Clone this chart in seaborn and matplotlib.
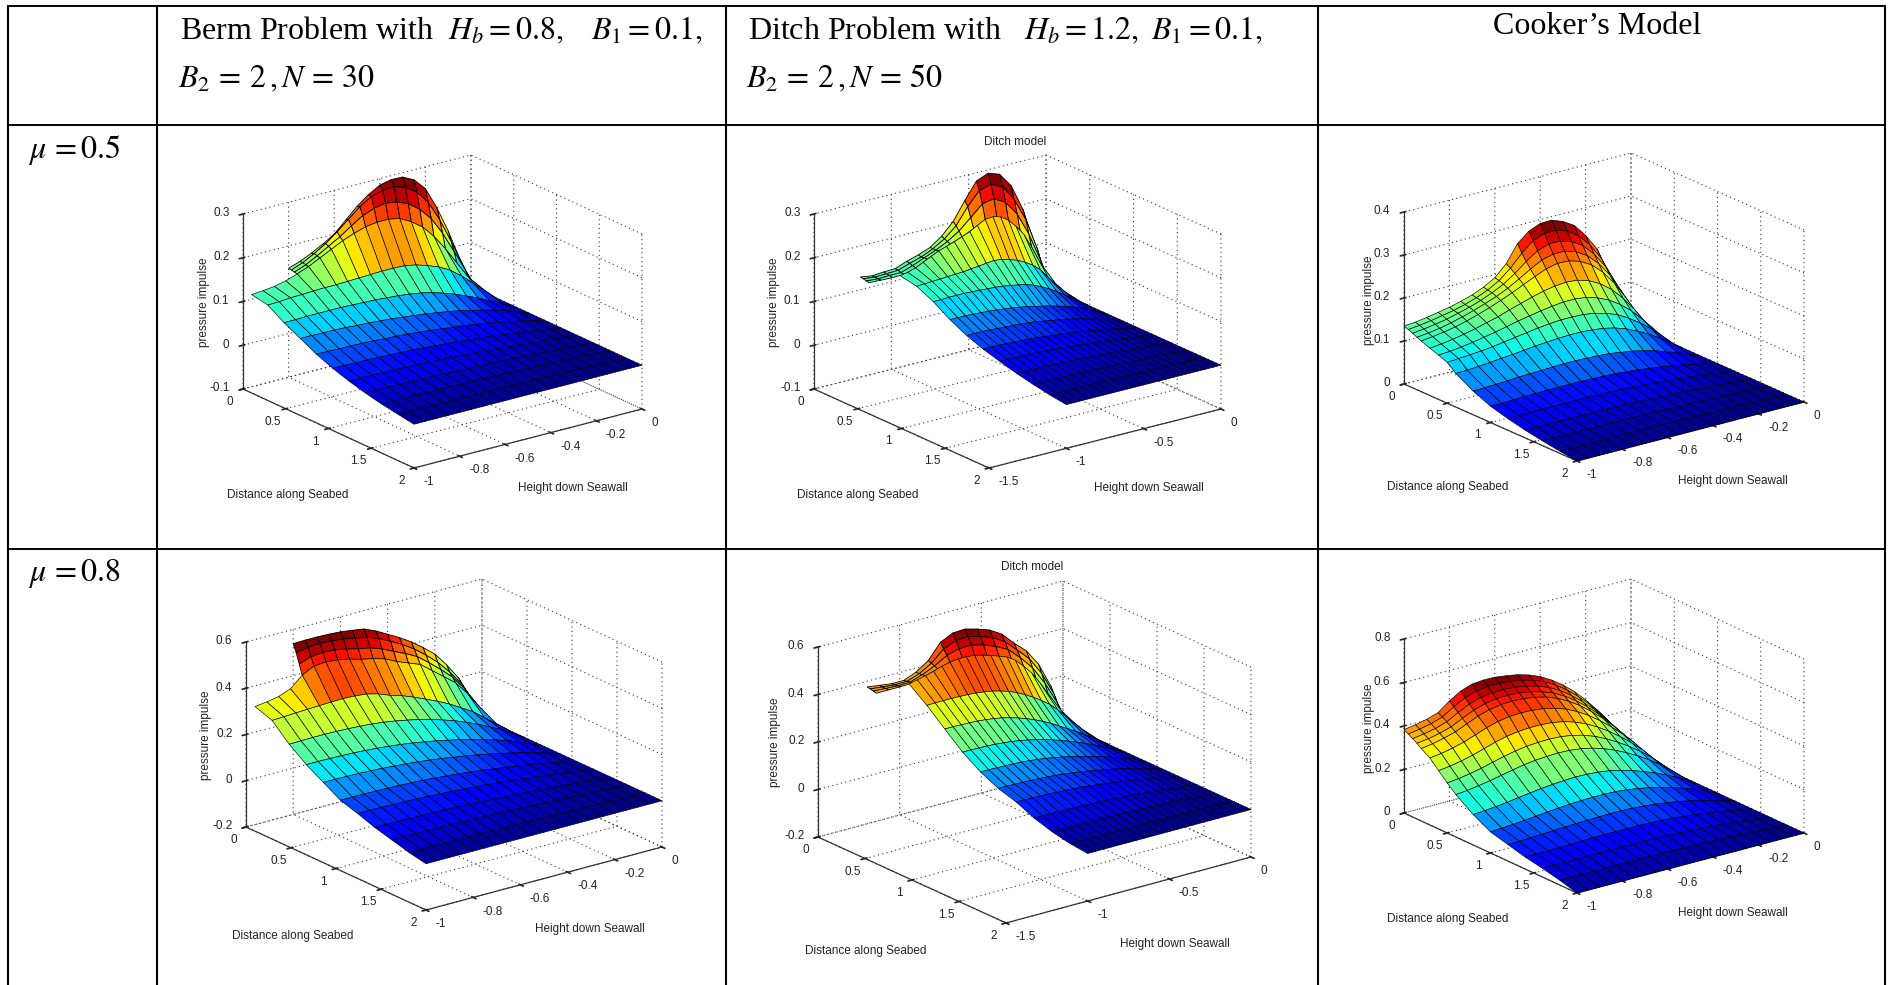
import numpy as np
import matplotlib
matplotlib.use("Agg")
import matplotlib.pyplot as plt
from matplotlib.lines import Line2D
from mpl_toolkits.mplot3d import proj3d
import seaborn as sns

# values, pressure impulse in thousandths
# coarse rows: one row per x node, columns run from y=-1 to y=0
x_coarse = [0.1, 0.29, 0.48, 0.67, 0.86, 1.05, 1.24, 1.43, 1.62, 1.81, 2.0]
x_fine = [0, 0.033, 0.067, 0.1]
x_cooker = [0, 0.05, 0.1, 0.15, 0.2, 0.3, 0.4, 0.5, 0.6, 0.8, 1.0, 1.2, 1.4, 1.6, 1.8, 2.0]
y_unit = [-1, -0.95, -0.9, -0.85, -0.8, -0.75, -0.7, -0.65, -0.6, -0.55, -0.5,
          -0.45, -0.4, -0.35, -0.3, -0.25, -0.2, -0.15, -0.1, -0.05, 0]
y_berm_fine = [-0.8, -0.75, -0.7, -0.65, -0.6, -0.55, -0.5, -0.45, -0.4,
               -0.35, -0.3, -0.25, -0.2, -0.15, -0.1, -0.05, 0]
y_ditch_fine = [-1.2, -1.125, -1.05, -0.975, -0.9, -0.825, -0.75, -0.675, -0.6,
                -0.525, -0.45, -0.375, -0.3, -0.225, -0.15, -0.075, 0]

berm05 = [
    [125,127,130,136,145,155,168,181,194,204,212,216,216,211,197,178,150,115,76,37,0],
    [118,119,121,122,123,124,124,125,126,127,128,128,127,122,114,104,90,70,47,24,0],
    [95,95,96,96,96,96,95,94,93,91,89,86,82,76,68,59,48,37,24,12,0],
    [76,76,75,75,74,72,71,69,67,64,61,58,54,50,45,39,33,26,18,9,0],
    [57,57,56,56,55,54,52,51,49,47,44,41,38,35,31,27,22,17,12,6,0],
    [42,42,41,41,40,39,38,37,35,33,31,29,26,24,21,18,15,11,8,4,0],
    [30,30,30,29,29,28,27,26,25,23,22,20,18,16,14,12,10,7,5,3,0],
    [20,20,20,19,19,18,18,17,16,15,14,13,12,11,9,8,6,5,3,2,0],
    [12,12,12,12,11,11,11,10,10,9,9,8,7,6,5,5,4,3,2,1,0],
    [6,6,6,6,6,5,5,5,5,5,4,4,4,3,3,2,2,1,1,0,0],
    [0,0,0,0,0,0,0,0,0,0,0,0,0,0,0,0,0,0,0,0,0],
]
berm05_fine = [
    [149,158,170,184,200,225,250,270,285,291,290,277,250,200,140,70,0],
    [148,158,172,188,208,230,252,268,276,278,270,252,222,176,120,60,0],
    [146,156,170,185,200,218,235,245,250,246,235,216,188,148,100,50,0],
    [145,155,168,181,194,204,212,216,216,211,197,178,150,115,76,37,0],
]
ditch05 = [
    [123,126,132,140,149,157,163,169,176,183,193,202,204,199,187,168,146,112,74,36,0],
    [116,117,118,119,120,121,122,124,126,128,130,128,123,117,108,97,82,60,40,20,0],
    [98,98,99,99,99,98,97,96,95,93,90,87,83,77,69,60,49,37,25,13,0],
    [74,74,74,73,72,71,69,67,65,62,59,55,51,47,42,37,31,24,16,8,0],
    [55,55,55,54,53,52,51,50,48,46,43,40,37,34,30,26,21,16,11,6,0],
    [41,41,41,40,39,38,37,36,34,32,30,28,26,23,20,17,14,11,7,4,0],
    [30,30,30,29,29,28,27,26,25,23,22,20,18,16,14,12,10,7,5,3,0],
    [20,20,20,19,19,18,18,17,16,15,14,13,12,11,9,8,6,5,3,2,0],
    [12,12,12,12,11,11,11,10,10,9,9,8,7,6,5,5,4,3,2,1,0],
    [5,5,5,5,5,5,5,5,5,4,4,4,3,3,3,2,2,1,1,0,0],
    [0,0,0,0,0,0,0,0,0,0,0,0,0,0,0,0,0,0,0,0,0],
]
ditch05_fine = [
    [129,125,127,128,138,146,156,175,202,243,281,292,283,250,190,105,0],
    [128,125,126,127,136,144,156,172,195,232,262,270,258,222,170,95,0],
    [126,124,125,125,134,145,156,169,186,210,235,240,225,192,140,75,0],
    [125,124,123,124,132,145,157,166,176,188,202,201,187,158,112,55,0],
]
cooker05 = [
    [135,137,141,146,151,158,166,177,192,218,258,280,291,292,282,266,236,198,135,70,0],
    [131,134,138,143,148,155,164,175,190,212,240,262,272,273,264,246,218,180,128,65,0],
    [127,130,134,139,146,153,162,173,186,204,225,243,252,252,244,228,201,165,116,60,0],
    [122,125,129,135,142,150,159,169,181,196,212,226,233,233,225,209,184,150,106,54,0],
    [118,121,125,130,137,145,154,164,175,187,199,210,216,215,207,192,168,136,96,49,0],
    [110,113,117,122,128,135,142,151,159,167,174,179,181,179,171,157,137,110,77,40,0],
    [103,105,108,112,117,122,128,134,139,144,148,151,151,148,140,128,111,89,62,32,0],
    [95,97,99,101,104,108,112,116,120,123,125,125,124,120,113,103,88,70,49,25,0],
    [78,79,81,83,86,88,91,94,96,98,99,99,97,94,88,79,67,53,37,19,0],
    [55,56,57,58,60,61,62,63,64,64,63,62,60,56,52,46,39,30,21,11,0],
    [38,38,39,40,40,41,41,41,41,40,39,38,36,33,30,26,22,17,12,6,0],
    [27,27,28,28,28,28,28,28,27,27,26,25,23,21,19,17,14,11,7,4,0],
    [18,18,18,18,18,18,18,18,17,17,16,15,14,13,12,10,8,6,4,2,0],
    [11,11,11,11,11,11,11,11,10,10,10,9,8,8,7,6,5,4,3,1,0],
    [5,5,5,5,5,5,5,5,5,5,4,4,4,3,3,3,2,2,1,1,0],
    [0,0,0,0,0,0,0,0,0,0,0,0,0,0,0,0,0,0,0,0,0],
]
berm08 = [
    [339,345,355,375,420,445,450,445,435,420,410,395,370,350,330,290,250,210,150,80,0],
    [313,315,318,320,322,324,325,323,318,305,285,270,250,228,205,180,150,120,80,40,0],
    [244,245,246,246,245,243,240,236,230,222,212,201,188,172,155,135,112,88,62,32,0],
    [190,190,189,188,186,183,179,174,168,161,152,143,132,121,108,94,79,62,43,22,0],
    [147,147,146,145,143,140,136,132,127,121,114,106,98,89,79,68,57,44,30,15,0],
    [104,104,104,103,102,100,98,95,91,87,82,76,70,63,56,48,40,31,21,11,0],
    [81,81,80,79,78,76,74,71,68,64,60,56,51,46,40,34,28,22,15,8,0],
    [55,55,54,53,52,51,50,48,46,43,40,37,34,30,26,22,18,14,10,5,0],
    [35,35,35,34,34,33,32,30,29,27,25,23,21,19,16,14,11,9,6,3,0],
    [15,15,15,15,14,14,14,13,12,12,11,10,9,8,7,6,5,4,2,1,0],
    [0,0,0,0,0,0,0,0,0,0,0,0,0,0,0,0,0,0,0,0,0],
]
berm08_fine = [
    [538,540,540,538,535,528,520,498,470,442,410,372,330,270,200,105,0],
    [505,515,518,516,510,500,490,472,445,418,385,345,300,245,180,95,0],
    [462,480,485,482,473,460,450,432,408,385,358,318,275,228,165,88,0],
    [420,445,450,445,435,420,410,395,370,350,330,290,250,210,150,80,0],
]
ditch08 = [
    [370,378,386,395,407,415,420,420,416,408,397,385,372,350,316,278,228,172,112,55,0],
    [314,315,315,315,314,313,310,306,300,291,280,266,248,228,205,180,148,110,75,38,0],
    [249,249,248,247,245,242,237,231,222,212,200,186,170,152,132,112,92,70,47,24,0],
    [186,186,185,184,182,179,175,170,163,155,146,136,124,112,98,84,69,53,36,18,0],
    [137,137,136,135,134,132,129,125,120,114,107,99,91,82,72,62,51,39,27,14,0],
    [102,102,101,100,99,97,95,92,88,84,79,73,67,60,53,46,38,29,20,10,0],
    [79,79,78,77,76,74,72,70,67,63,60,55,50,45,40,34,28,22,15,8,0],
    [46,46,46,45,45,44,43,41,40,38,36,33,31,28,25,21,17,13,9,5,0],
    [23,23,23,23,23,22,22,21,20,19,18,17,15,14,12,11,9,7,4,2,0],
    [8,8,8,8,8,8,8,7,7,7,6,6,5,5,4,4,3,2,2,1,0],
    [0,0,0,0,0,0,0,0,0,0,0,0,0,0,0,0,0,0,0,0,0],
]
ditch08_fine = [
    [376,369,362,362,383,418,481,506,509,495,477,446,394,348,278,172,0],
    [374,368,363,364,382,412,458,480,483,470,451,420,371,320,245,145,0],
    [371,368,365,367,384,407,437,452,453,440,420,393,345,288,210,115,0],
    [368,368,368,370,386,401,415,420,416,403,385,361,316,253,172,85,0],
]
cooker08 = [
    [383,392,403,420,460,492,510,515,514,507,498,483,462,432,396,352,300,240,175,90,0],
    [372,381,392,409,442,470,487,494,495,490,482,468,447,418,381,337,287,230,165,85,0],
    [360,368,379,396,425,450,466,474,476,472,464,450,430,402,365,322,274,219,157,80,0],
    [348,355,366,382,407,431,447,456,458,455,447,433,414,386,351,309,262,209,150,77,0],
    [333,341,353,368,391,413,429,438,441,438,431,418,398,371,337,296,251,200,143,74,0],
    [308,315,326,340,359,378,393,402,405,403,397,385,367,342,310,272,230,183,130,67,0],
    [268,275,285,298,314,330,343,351,355,355,351,342,326,304,276,242,204,162,115,59,0],
    [230,236,245,256,270,283,294,302,306,307,305,297,284,265,240,211,178,141,100,51,0],
    [195,200,208,217,228,239,249,256,260,262,260,254,243,227,206,181,153,121,85,44,0],
    [140,144,149,155,163,170,177,182,186,188,187,183,176,164,149,131,111,88,62,32,0],
    [97,100,104,109,114,119,124,128,131,132,132,130,125,117,107,94,80,63,44,23,0],
    [76,77,79,81,84,87,89,91,92,93,93,91,87,82,75,66,56,44,31,16,0],
    [55,55,56,57,58,60,61,62,62,62,62,60,58,54,49,43,36,29,20,10,0],
    [40,40,40,40,41,41,41,41,41,41,40,39,37,34,31,27,23,18,12,6,0],
    [22,22,22,22,22,22,22,22,22,21,21,20,19,18,16,14,12,9,6,3,0],
    [0,0,0,0,0,0,0,0,0,0,0,0,0,0,0,0,0,0,0,0,0],
]

x_ticks = [0, 0.5, 1, 1.5, 2]
x_labels = ["0", "0.5", "1", "1.5", "2"]
y_ticks_unit = [-1, -0.8, -0.6, -0.4, -0.2, 0]
y_labels_unit = ["-1", "-0.8", "-0.6", "-0.4", "-0.2", "0"]
y_ticks_ditch = [-1.5, -1, -0.5, 0]
y_labels_ditch = ["-1.5", "-1", "-0.5", "0"]
z_ticks_03 = [-0.1, 0, 0.1, 0.2, 0.3]
z_labels_03 = ["-0.1", "0", "0.1", "0.2", "0.3"]
z_ticks_04 = [0, 0.1, 0.2, 0.3, 0.4]
z_labels_04 = ["0", "0.1", "0.2", "0.3", "0.4"]
z_ticks_06 = [-0.2, 0, 0.2, 0.4, 0.6]
z_labels_06 = ["-0.2", "0", "0.2", "0.4", "0.6"]
z_ticks_08 = [0, 0.2, 0.4, 0.6, 0.8]
z_labels_08 = ["0", "0.2", "0.4", "0.6", "0.8"]

W, H = 1896, 985

sns.set_theme(style="white")
plt.rcParams["font.family"] = ["Liberation Sans"]
plt.rcParams["mathtext.fontset"] = "stix"
jet = plt.get_cmap("jet")

fig = plt.figure(figsize=(W / 100, H / 100), dpi=100, facecolor="white")


def fig_text(x, y, s, **kw):
    return fig.text(x / W, 1 - y / H, s, **kw)


def draw_panel(left, bottom, right, ztop, meshes, yt, ytl, zt, ztl, dist_xy, height_xy, press_xy):
    dx = (bottom[0] - left[0], bottom[1] - left[1])
    dy = (right[0] - bottom[0], bottom[1] - right[1])
    dz = left[1] - ztop
    rx, ry = dx[1] / dx[0], dy[1] / dy[0]
    elev = np.arcsin(np.sqrt(rx * ry))
    azim = np.arctan(np.sqrt(ry / rx))

    ax = fig.add_axes([200 / W, 200 / H, 600 / W, 600 / H], projection="3d", proj_type="ortho")
    ax.set_facecolor("none")
    ax.computed_zorder = False
    ax.view_init(elev=np.degrees(elev), azim=-np.degrees(azim), roll=0)
    ax.set_box_aspect((dx[0] / np.sin(azim), dy[0] / np.cos(azim), dz / np.cos(elev)))
    ax.set_xlim(0, 2)
    ax.set_ylim(yt[0], 0)
    ax.set_zlim(zt[0], zt[-1])

    all_z = np.concatenate([np.ravel(m[2]) for m in meshes]) / 1000
    for order, (xs, ys, zs) in enumerate(meshes):
        X, Y = np.meshgrid(xs, ys, indexing="ij")
        Z = np.array(zs) / 1000
        # flat cells take the colour of their first corner
        colors = jet((Z - all_z.min()) / (all_z.max() - all_z.min()))
        surf = ax.plot_surface(X, Y, Z, facecolors=colors, shade=False, rstride=1, cstride=1,
                               antialiased=True, zorder=order + 1)
        surf.set_edgecolor("black")
        surf.set_linewidth(0.6 if len(xs) == 4 else 0.45)

    ax.set_xticks(x_ticks, labels=x_labels)
    ax.set_yticks(yt, labels=ytl)
    ax.set_zticks(zt, labels=ztl)
    ax.zaxis.set_ticks_position("lower")
    for axis in (ax.xaxis, ax.yaxis, ax.zaxis):
        axis.set_pane_color((1, 1, 1, 0))
        axis.pane.set_edgecolor((1, 1, 1, 0))
        axis.line.set_color("#333333")
        axis.line.set_linewidth(0.9)
        axis._axinfo["grid"].update(color="#333333", linewidth=0.8, linestyle=(0, (1, 3)))
        axis.set_tick_params(labelsize=8.5, labelcolor="#222222", pad=1)
    ax.zaxis.set_tick_params(pad=-2.5)
    plt.setp(ax.xaxis.get_ticklabels(), va="center")
    plt.setp(ax.yaxis.get_ticklabels(), va="center", ha="left")
    plt.setp(ax.zaxis.get_ticklabels(), va="center", ha="right")

    # scale and shift the square axes so the box corners land where they are in the picture
    def corner_px(cx, cy):
        px, py, _ = proj3d.proj_transform(cx, cy, zt[0], ax.get_proj())
        return ax.transData.transform((px, py))

    k = (right[0] - left[0]) / (corner_px(2, 0)[0] - corner_px(0, yt[0])[0])
    size = 600 * k
    ax.set_position([200 / W, 200 / H, size / W, size / H])
    p = corner_px(0, yt[0])
    ax.set_position([(200 + left[0] - p[0]) / W, (200 + (H - left[1]) - p[1]) / H, size / W, size / H])

    label = dict(fontsize=8.5, color="#222222", ha="center", va="center")
    fig_text(*dist_xy, "Distance along Seabed", **label)
    fig_text(*height_xy, "Height down Seawall", **label)
    fig_text(*press_xy, "pressure impulse", rotation=90, **label)
    return ax


draw_panel((243, 389), (414, 468), (642, 409), 214,
           [(x_fine, y_berm_fine, berm05_fine), (x_coarse, y_unit, berm05)],
           y_ticks_unit, y_labels_unit, z_ticks_03, z_labels_03, (288, 495), (573, 488), (204, 302))
draw_panel((814, 389), (989, 468), (1221, 409), 214,
           [(x_fine, y_ditch_fine, ditch05_fine), (x_coarse, y_unit, ditch05)],
           y_ticks_ditch, y_labels_ditch, z_ticks_03, z_labels_03, (858, 495), (1149, 488), (774, 302))
draw_panel((1404, 384), (1577, 461), (1804, 402), 212,
           [(x_cooker, y_unit, cooker05)],
           y_ticks_unit, y_labels_unit, z_ticks_04, z_labels_04, (1448, 487), (1733, 481), (1369, 300))
draw_panel((246, 827), (426, 910), (662, 847), 642,
           [(x_fine, y_berm_fine, berm08_fine), (x_coarse, y_unit, berm08)],
           y_ticks_unit, y_labels_unit, z_ticks_06, z_labels_06, (293, 936), (590, 929), (206, 735))
draw_panel((818, 837), (1006, 923), (1251, 857), 647,
           [(x_fine, y_ditch_fine, ditch08_fine), (x_coarse, y_unit, ditch08)],
           y_ticks_ditch, y_labels_ditch, z_ticks_06, z_labels_06, (866, 951), (1175, 944), (775, 742))
draw_panel((1404, 813), (1577, 893), (1804, 833), 639,
           [(x_cooker, y_unit, cooker08)],
           y_ticks_unit, y_labels_unit, z_ticks_08, z_labels_08, (1448, 919), (1733, 913), (1369, 728))

fig_text(1015, 142, "Ditch model", fontsize=8.5, color="#222222", ha="center", va="center")
fig_text(1032, 567, "Ditch model", fontsize=8.5, color="#222222", ha="center", va="center")

# table rules
for x in [8, 157, 726, 1318, 1885]:
    fig.add_artist(Line2D([x / W, x / W], [1 - 6 / H, 0], color="black", lw=1.5))
for y in [6, 125, 549]:
    fig.add_artist(Line2D([8 / W, 1885 / W], [1 - y / H, 1 - y / H], color="black", lw=1.4))

head = dict(fontsize=23, family="Liberation Serif", color="black", va="center", ha="left")
fig_text(180, 31, r"Berm Problem with  $H_b=0.8,\ \ \ B_1=0.1,$", **head)
fig_text(178, 79, r"$B_2\,=\,2\,,N\,=\,30$", **head)
fig_text(748, 31, r"Ditch Problem with  $\ H_b=1.2,\ B_1=0.1,$", **head)
fig_text(746, 79, r"$B_2\,=\,2\,,N\,=\,50$", **head)
fig_text(1597, 27, "Cooker\u2019s Model", **{**head, "ha": "center"})
fig_text(28, 150, r"$\mu\,=0.5$", **head)
fig_text(28, 573, r"$\mu\,=0.8$", **head)

fig.savefig("out.png", dpi=100)
